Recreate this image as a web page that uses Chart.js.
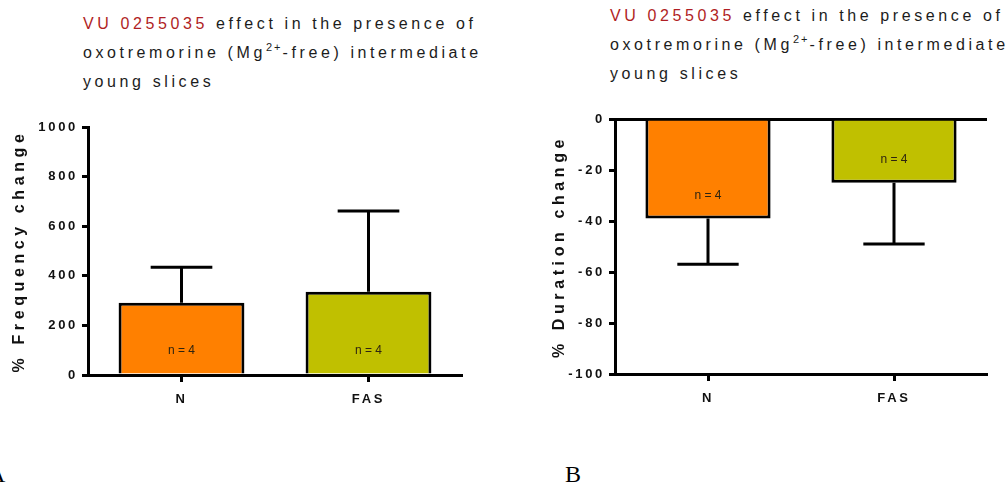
<!DOCTYPE html>
<html>
<head>
<meta charset="utf-8">
<script src="https://cdn.jsdelivr.net/npm/chart.js@4"></script>
<style>
  body { margin: 0; background: #fff; width: 1007px; height: 488px; position: relative; overflow: hidden; font-family: "Liberation Sans", Arial, sans-serif; }
  .panel { position: absolute; top: 0; height: 430px; }
  .title { position: absolute; font-size: 16px; line-height: 29px; letter-spacing: 3.6px; color: #1c1c1c; white-space: nowrap; }
  .title .drug { color: #b01e24; }
  .title sup { font-size: 11px; vertical-align: 7px; line-height: 0; letter-spacing: 2px; }
  .letter { position: absolute; font-family: "Liberation Serif", serif; font-size: 24px; color: #000; }
</style>
</head>
<body>
<div class="title" style="left:83px; top:9px"><span class="drug">VU 0255035</span> effect in the presence of<br>oxotremorine (Mg<sup>2+</sup>-free) intermediate<br>young slices</div>
<div class="title" style="left:610px; top:1px"><span class="drug">VU 0255035</span> effect in the presence of<br>oxotremorine (Mg<sup>2+</sup>-free) intermediate<br>young slices</div>

<div class="panel" style="left:0; width:500px"><canvas id="freqChart"></canvas></div>
<div class="panel" style="left:500px; width:507px"><canvas id="durChart"></canvas></div>

<div class="letter" style="left:-12px; top:461px">A</div>
<div class="letter" style="left:565px; top:461px">B</div>

<script>
// data
const groups = ["N", "FAS"];
const freqMeans = [291, 336];
const freqSem = [143, 325];
const durMeans = [-39, -25];
const durSem = [18, 24];
const nCounts = ["n = 4", "n = 4"];
const barColors = ["#ff8000", "#c0c000"];

const FONT = "'Liberation Sans', Arial, sans-serif";

// error bars (away from zero) + n labels
const errorBars = {
  id: "errorBars",
  afterDatasetsDraw(chart, args, opts) {
    const ctx = chart.ctx;
    const yScale = chart.scales.y;
    const meta = chart.getDatasetMeta(0);
    const values = chart.data.datasets[0].data;
    ctx.save();
    ctx.strokeStyle = "#000";
    ctx.lineWidth = 3;
    meta.data.forEach((bar, i) => {
      const v = values[i];
      const yEnd = yScale.getPixelForValue(v + Math.sign(v) * opts.sem[i]);
      const half = bar.width * 0.245;
      ctx.beginPath();
      ctx.moveTo(bar.x, bar.y);
      ctx.lineTo(bar.x, yEnd);
      ctx.moveTo(bar.x - half, yEnd);
      ctx.lineTo(bar.x + half, yEnd);
      ctx.stroke();
    });
    ctx.letterSpacing = "0px";
    ctx.fillStyle = "#2e2410";
    ctx.font = "12px " + FONT;
    ctx.textAlign = "center";
    ctx.textBaseline = "middle";
    meta.data.forEach((bar, i) => {
      const low = Math.max(bar.y, bar.base);
      ctx.fillText(nCounts[i], bar.x, low - 23);
    });
    ctx.restore();
  }
};

// spaced-out axis text like the original export
const axisTitle = {
  id: "axisTitle",
  beforeDraw(chart) {
    chart.ctx.letterSpacing = "2.7px";
  },
  afterDraw(chart, args, opts) {
    const { ctx, chartArea } = chart;
    ctx.save();
    ctx.translate(opts.x, (chartArea.top + chartArea.bottom) / 2);
    ctx.rotate(-Math.PI / 2);
    ctx.letterSpacing = "4.6px";
    ctx.font = "bold 16px " + FONT;
    ctx.fillStyle = "#111";
    ctx.textAlign = "center";
    ctx.textBaseline = "middle";
    ctx.fillText(opts.text, 0, 0);
    ctx.restore();
  }
};

const tickFont = { family: FONT, size: 13, weight: "bold" };
const xTickFont = { family: FONT, size: 13, weight: "bold" };

const makeChart = (id, values, sem, title, yMin, yMax, area) => {
  return new Chart(document.getElementById(id), {
    type: "bar",
    data: {
      labels: groups,
      datasets: [
        {
          data: values,
          backgroundColor: barColors,
          borderColor: "#000",
          borderWidth: 3,
          borderSkipped: "start",
          barPercentage: 0.673,
          categoryPercentage: 1,
        },
      ],
    },
    options: {
      responsive: true,
      maintainAspectRatio: false,
      animation: false,
      layout: { padding: { top: area.top, right: area.right, left: 0, bottom: 0 } },
      plugins: {
        legend: { display: false },
        tooltip: { enabled: false },
        errorBars: { sem: sem },
        axisTitle: { text: title, x: area.titleX },
      },
      scales: {
        x: {
          grid: { offset: false, drawOnChartArea: false, tickLength: 7, tickWidth: 3, tickColor: "#000" },
          border: { color: "#000", width: 3 },
          ticks: { color: "#111", font: xTickFont, padding: 10 },
          afterFit: (s) => { s.height = area.xHeight; },
        },
        y: {
          min: yMin,
          max: yMax,
          grid: {
            drawOnChartArea: yMax === 0,
            color: (c) => (c.tick && c.tick.value === 0 ? "#000" : "rgba(0,0,0,0)"),
            lineWidth: 3,
            tickLength: 6,
            tickWidth: 3,
            tickColor: "#000",
          },
          border: { color: "#000", width: 3 },
          ticks: {
            stepSize: 20 * (yMax - yMin) / 100,
            color: "#111",
            font: tickFont,
            padding: 4,
            callback: (v) => String(v),
          },
          afterFit: (s) => { s.width = area.yWidth; },
        },
      },
    },
    plugins: [errorBars, axisTitle],
  });
};

makeChart("freqChart", freqMeans, freqSem, "% Frequency change", 0, 1000,
  { top: 127, right: 38, xHeight: 55, yWidth: 88, titleX: 20 });
makeChart("durChart", durMeans, durSem, "% Duration change", -100, 0,
  { top: 119, right: 20, xHeight: 56, yWidth: 115, titleX: 60 });
</script>
</body>
</html>
